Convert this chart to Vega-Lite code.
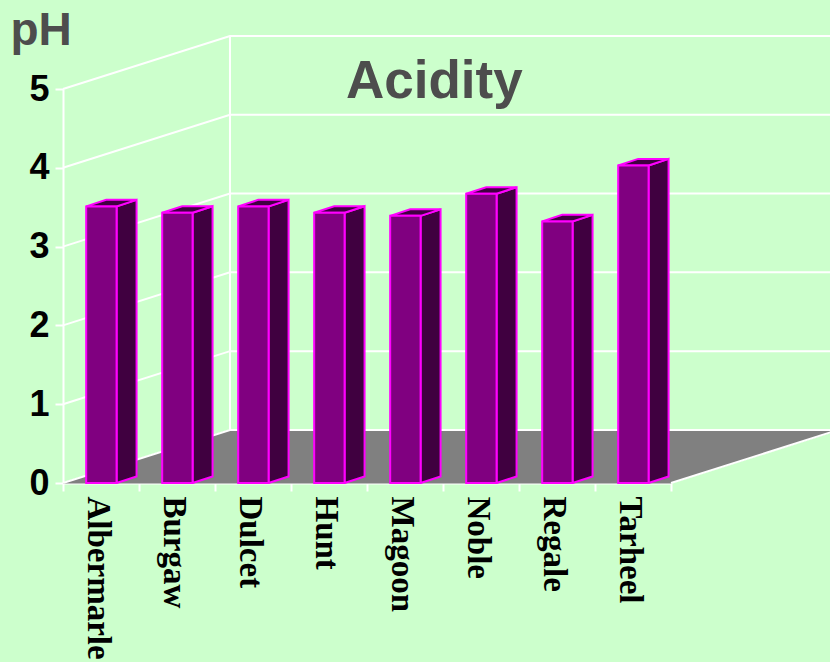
{"$schema":"https://vega.github.io/schema/vega-lite/v6.json","width":608,"height":394,"autosize":{"type":"none"},"padding":{"left":63,"top":89,"right":159,"bottom":179},"background":"#ccffcc","config":{"view":{"stroke":null}},"title":{"text":"Acidity","anchor":"start","frame":"group","dx":283,"dy":106,"font":"Liberation Sans","fontSize":53,"fontWeight":"bold","color":"#4d4d4d"},"datasets":{"cultivars":[{"cultivar":"Albermarle","pH":3.51},{"cultivar":"Burgaw","pH":3.43},{"cultivar":"Dulcet","pH":3.51},{"cultivar":"Hunt","pH":3.43},{"cultivar":"Magoon","pH":3.39},{"cultivar":"Noble","pH":3.67},{"cultivar":"Regale","pH":3.32},{"cultivar":"Tarheel","pH":4.03}],"levels":[{"level":0},{"level":1},{"level":2},{"level":3},{"level":4},{"level":5}],"floor":[{"name":"floor"}]},"encoding":{"x":{"field":"px","type":"quantitative","scale":{"domain":[0,8],"nice":false,"zero":false},"axis":{"values":[0,1,2,3,4,5,6,7,8],"title":null,"grid":false,"domainColor":"#ffffff","domainWidth":2,"tickColor":"#ffffff","tickWidth":2,"tickSize":8,"labelExpr":"['Albermarle','Burgaw','Dulcet','Hunt','Magoon','Noble','Regale','Tarheel',''][datum.value]","labelAngle":90,"labelAlign":"left","labelBaseline":"middle","labelOffset":34,"labelPadding":5,"labelFont":"Liberation Serif","labelFontSize":33,"labelFontWeight":"bold","labelColor":"#000000","labelOverlap":false,"labelBound":false,"labelFlush":false}},"y":{"field":"py","type":"quantitative","scale":{"domain":[0,5],"nice":false,"zero":true},"axis":{"values":[0,1,2,3,4,5],"format":"d","title":"pH","titleAngle":0,"titleX":-53,"titleY":-45,"titleAlign":"left","titleBaseline":"alphabetic","titleFont":"Liberation Sans","titleFontSize":46,"titleFontWeight":"bold","titleColor":"#4d4d4d","grid":false,"domainColor":"#ffffff","domainWidth":2,"tickColor":"#ffffff","tickWidth":2,"tickSize":8,"labelFont":"Liberation Sans","labelFontSize":36,"labelFontWeight":"bold","labelColor":"#000000","labelPadding":6,"labelOverlap":false,"labelBound":false,"labelFlush":false}}},"layer":[{"data":{"name":"floor"},"transform":[{"calculate":"[0,1,2,3,4]","as":"corner"},{"flatten":["corner"]},{"calculate":"datum.corner==1||datum.corner==2?8:0","as":"fx"},{"calculate":"datum.corner==2||datum.corner==3?1:0","as":"depth"},{"calculate":"datum.fx+datum.depth*(datum.fx==8?2.2:2.197)","as":"px"},{"calculate":"datum.depth*0.673","as":"py"}],"mark":{"type":"line","fill":"#808080","stroke":"#808080","strokeWidth":1},"encoding":{"order":{"field":"corner","type":"quantitative"}}},{"data":{"name":"floor"},"transform":[{"calculate":"[0,1]","as":"corner"},{"flatten":["corner"]},{"calculate":"8+datum.corner*2.2","as":"px"},{"calculate":"datum.corner*0.673","as":"py"}],"mark":{"type":"line","stroke":"#ffffff","strokeWidth":2},"encoding":{"order":{"field":"corner","type":"quantitative"}}},{"data":{"name":"levels"},"transform":[{"calculate":"[0,1,2]","as":"corner"},{"flatten":["corner"]},{"calculate":"datum.corner==0?0:datum.corner==1?2.197:10.1","as":"px"},{"calculate":"datum.level+(datum.corner>0?0.673:0)","as":"py"}],"mark":{"type":"line","stroke":"#ffffff","strokeWidth":2},"encoding":{"detail":{"field":"level"},"order":{"field":"corner","type":"quantitative"}}},{"data":{"name":"levels"},"transform":[{"filter":"datum.level==0||datum.level==5"},{"calculate":"2.197","as":"px"},{"calculate":"datum.level+0.673","as":"py"}],"mark":{"type":"line","stroke":"#ffffff","strokeWidth":2}},{"data":{"name":"cultivars"},"transform":[{"window":[{"op":"row_number","as":"n"}]},{"calculate":"[0,1,2,3,4]","as":"corner"},{"flatten":["corner"]},{"calculate":"datum.n-1+0.705+(datum.corner==1||datum.corner==2?0.263:0)","as":"px"},{"calculate":"(datum.corner==2||datum.corner==3?datum.pH:0)+(datum.corner==1||datum.corner==2?0.083:0)","as":"py"}],"mark":{"type":"line","fill":"#400040","stroke":"#ff00ff","strokeWidth":2},"encoding":{"detail":{"field":"cultivar"},"order":{"field":"corner","type":"quantitative"}}},{"data":{"name":"cultivars"},"transform":[{"window":[{"op":"row_number","as":"n"}]},{"calculate":"[0,1,2,3,4]","as":"corner"},{"flatten":["corner"]},{"calculate":"datum.n-1+(datum.corner==1||datum.corner==2?0.705:0.305)+(datum.corner==2||datum.corner==3?0.263:0)","as":"px"},{"calculate":"datum.pH+(datum.corner==2||datum.corner==3?0.083:0)","as":"py"}],"mark":{"type":"line","fill":"#400040","stroke":"#ff00ff","strokeWidth":2},"encoding":{"detail":{"field":"cultivar"},"order":{"field":"corner","type":"quantitative"}}},{"data":{"name":"cultivars"},"transform":[{"window":[{"op":"row_number","as":"n"}]},{"calculate":"datum.n-1+0.305","as":"px"},{"calculate":"datum.n-1+0.705","as":"px2"},{"calculate":"datum.pH","as":"py"},{"calculate":"0","as":"py2"}],"mark":{"type":"rect","fill":"#800080","stroke":"#ff00ff","strokeWidth":2},"encoding":{"x2":{"field":"px2"},"y2":{"field":"py2"}}}]}
